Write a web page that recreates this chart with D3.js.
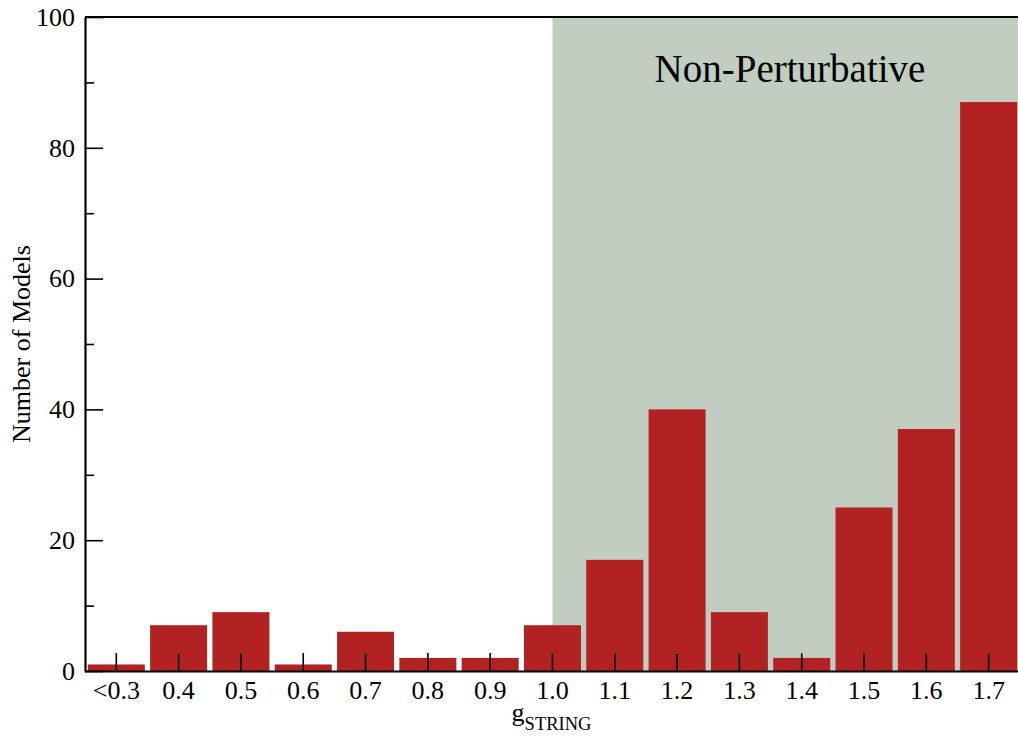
<!DOCTYPE html>
<html>
<head>
<meta charset="utf-8">
<script src="https://cdn.jsdelivr.net/npm/d3@7"></script>
<style>
  html, body { margin: 0; padding: 0; background: #fff; }
  svg { display: block; font-family: "Liberation Serif", "Times New Roman", serif; }
</style>
</head>
<body>
<svg id="chart" width="1018" height="738"></svg>
<script>
const categories = ["<0.3","0.4","0.5","0.6","0.7","0.8","0.9","1.0","1.1","1.2","1.3","1.4","1.5","1.6","1.7"];
const counts = [1, 7, 9, 1, 6, 2, 2, 7, 17, 40, 9, 2, 25, 37, 87];
const yMajorTicks = [0, 20, 40, 60, 80, 100];
const yMinorTicks = [10, 30, 50, 70, 90];
const shadeStart = "1.0";
const shadeLabel = "Non-Perturbative";

(function () {
const svg = d3.select("#chart");
const mLeft = 85, mRight = 1018, mTop = 17, mBottom = 671;

const x = d3.scaleBand().domain(categories).range([85.15, 1019.8])
  .paddingInner(0.085).paddingOuter(0.0425);
const y = d3.scaleLinear().domain([0, 100]).range([mBottom, mTop]);

// Shaded region
const sx = x(shadeStart) + x.bandwidth() / 2;
svg.append("rect")
  .attr("x", sx)
  .attr("y", y(100))
  .attr("width", mRight - sx)
  .attr("height", y(0) - y(100))
  .attr("fill", "#c1cdc1");

svg.append("text")
  .attr("x", 790).attr("y", 82)
  .attr("text-anchor", "middle")
  .attr("font-size", 39)
  .attr("fill", "#000")
  .text(shadeLabel);

// Bars
svg.append("g").selectAll("rect").data(counts).join("rect")
  .attr("x", (d, i) => x(categories[i]))
  .attr("width", x.bandwidth())
  .attr("y", d => y(d))
  .attr("height", d => y(0) - y(d))
  .attr("fill", "#b22222");

// X axis
const xAxis = svg.append("g")
  .attr("transform", `translate(0,${mBottom})`)
  .call(d3.axisBottom(x).tickSizeInner(-18).tickSizeOuter(0).tickPadding(9.5));
xAxis.select(".domain").attr("stroke-width", 2.2).attr("d", `M${mLeft},0.5H${mRight}`);
xAxis.selectAll(".tick line").attr("stroke-width", 1.6);
xAxis.selectAll(".tick text").attr("font-size", 26).attr("fill", "#000")
  .style("font-family", "Liberation Serif");

// Y axis minor ticks
const yMinor = svg.append("g")
  .attr("transform", `translate(${mLeft},0)`)
  .call(d3.axisLeft(y).tickValues(yMinorTicks).tickSizeInner(-9).tickSizeOuter(0).tickFormat(""));
yMinor.select(".domain").remove();
yMinor.selectAll(".tick line").attr("stroke-width", 1.6);

// Y axis major
const yAxis = svg.append("g")
  .attr("transform", `translate(${mLeft},0)`)
  .call(d3.axisLeft(y).tickValues(yMajorTicks).tickSizeInner(-18).tickSizeOuter(0).tickPadding(10));
yAxis.select(".domain").attr("stroke-width", 2.2);
yAxis.selectAll(".tick line").attr("stroke-width", 1.6);
yAxis.selectAll(".tick text").attr("font-size", 26).attr("fill", "#000")
  .style("font-family", "Liberation Serif");

// Top border
svg.append("line")
  .attr("x1", mLeft).attr("x2", mRight)
  .attr("y1", mTop).attr("y2", mTop)
  .attr("stroke", "#000").attr("stroke-width", 2);

// Y axis title
svg.append("text")
  .attr("transform", `translate(30,${(mTop + mBottom) / 2}) rotate(-90)`)
  .attr("text-anchor", "middle")
  .attr("font-size", 26)
  .attr("fill", "#000")
  .text("Number of Models");

// X axis title
const xt = svg.append("text")
  .attr("x", (mLeft + mRight) / 2).attr("y", 721)
  .attr("text-anchor", "middle")
  .attr("font-size", 26)
  .attr("fill", "#000");
xt.append("tspan").text("g");
xt.append("tspan").attr("font-size", 18.5).attr("dy", 9).text("STRING");
})();
</script>
</body>
</html>
